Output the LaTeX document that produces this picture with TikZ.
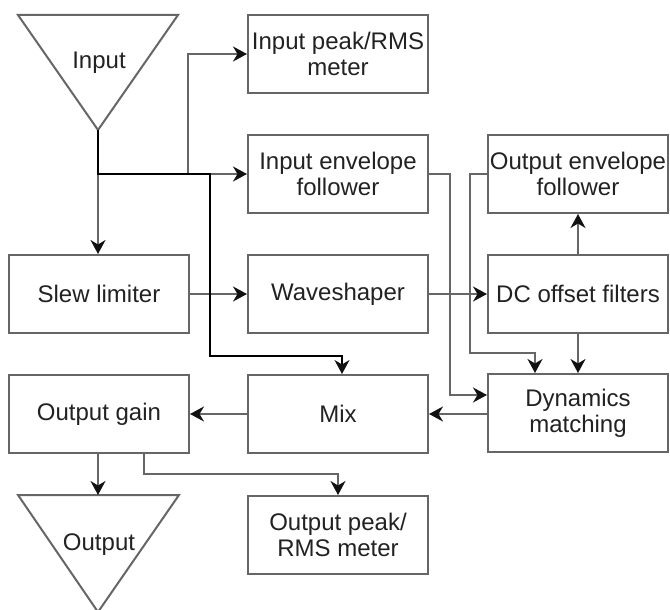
\documentclass[tikz,border=0pt]{standalone}
\usepackage{fontspec}
\setmainfont{Liberation Sans}
\usetikzlibrary{arrows.meta}
\definecolor{linegray}{HTML}{666666}
\definecolor{tipgray}{HTML}{111111}
\definecolor{textgray}{HTML}{222222}
\tikzset{
  block/.style={draw=linegray, line width=2pt, fill=white, minimum width=180pt,
    minimum height=78pt, inner sep=0pt, align=center, text=textgray,
    font=\fontsize{24}{26}\selectfont},
  label/.style={inner sep=0pt, text=textgray, font=\fontsize{24}{26}\selectfont},
  tri/.style={draw=linegray, line width=2pt, line join=miter},
  conn/.style={draw=linegray, line width=2pt,
    -{Stealth[length=14pt, width=15pt, inset=4.5pt, color=tipgray]}},
  thinconn/.style={draw=black, line width=1.1pt,
    -{Stealth[length=14pt, width=15pt, inset=4.5pt, color=tipgray]}},
}
\begin{document}
\begin{tikzpicture}[x=1pt, y=-1pt]
\useasboundingbox (0,0) rectangle (670,610);

% input and output triangles
\coordinate (inL) at (18,15);
\coordinate (inR) at (178,15);
\coordinate (inapex) at (98,130);
\draw[tri] (inL) -- (inR) -- (inapex) -- cycle;
\node[label, anchor=base] (intext) at (99,69) {Input};

\coordinate (outL) at (18,495);
\coordinate (outR) at (179,495);
\coordinate (outapex) at (98,612);
\coordinate (outtop) at (98,495);
\draw[tri] (outL) -- (outR) -- (outapex) -- cycle;
\node[label, anchor=base] (outtext) at (99,550) {Output};

% processing blocks
\node[block] (inmeter) at (338,54) {Input peak/RMS\\meter};
\node[block] (inenv) at (338,174) {Input envelope\\follower};
\node[block] (outenv) at (578,174) {Output envelope\\follower};
\node[block] (slew) at (99,294) {Slew limiter};
\node[block] (wave) at (338,294) {Waveshaper};
\node[block] (dc) at (578,294) {DC offset filters};
\node[block] (gain) at (99,414) {Output gain};
\node[block] (mix) at (338,414) {Mix};
\node[block] (dyn) at (578,413) {Dynamics\\matching};
\node[block] (outmeter) at (338,535) {Output peak/\\RMS meter};

% routing points
\coordinate (split) at (98,174);
\coordinate (metertap) at (188,174);
\coordinate (mixtap) at (210,174);
\coordinate (mixdrop) at (342,356);
\coordinate (inenvbend) at (450,395);
\coordinate (outenvbend) at (470,353);
\coordinate (dynin) at (535,353);
\coordinate (gaintap) at (144,474);

% signal path
\draw[conn] (inapex) -- (inapex |- slew.north);
\draw[conn] (split) -- (inenv.west);
\draw[conn] (metertap) |- (inmeter.west);
\draw[conn] (slew.east) -- (wave.west);
\draw[conn] (wave.east) -- (dc.west);
\draw[conn] (dc.north) -- (outenv.south);
\draw[conn] (dc.south) -- (dyn.north);
\draw[conn] (inenv.east) -| (inenvbend) -- (inenvbend -| dyn.west);
\draw[conn] (outenv.west) -| (outenvbend) -- (dynin) -- (dynin |- dyn.north);
\draw[conn] (dyn.west |- mix.east) -- (mix.east);
\draw[conn] (mix.west) -- (gain.east);
\draw[conn] (outtop |- gain.south) -- (outtop);
\draw[conn] (gaintap |- gain.south) -- (gaintap) -| (outmeter.north);

% dry signal to the mixer
\draw[thinconn] (inapex) -- (split) -- (mixtap) |- (mixdrop) -- (mixdrop |- mix.north);
\end{tikzpicture}
\end{document}
